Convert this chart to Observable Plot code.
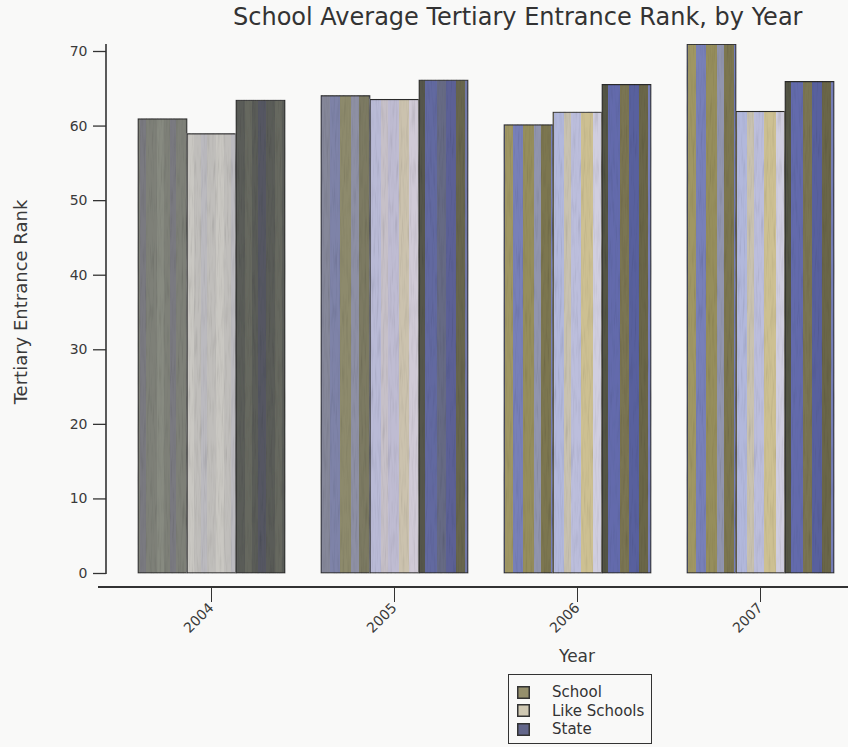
<!DOCTYPE html>
<html>
<head>
<meta charset="utf-8">
<script src="https://cdn.jsdelivr.net/npm/d3@7"></script>
<script src="https://cdn.jsdelivr.net/npm/@observablehq/plot@0.6"></script>
<style>
  html, body { margin: 0; padding: 0; background: #f9f9f8; }
  body { width: 848px; height: 747px; position: relative; overflow: hidden;
         font-family: "DejaVu Sans", Verdana, sans-serif; color: #3a3a3a; }
  #title { height: 44px; position: relative; }
  #title span { position: absolute; left: 233px; top: 3px; font-size: 24px; line-height: 28px; color: #333; white-space: nowrap; }
  #xlabel { height: 30px; position: relative; }
  #xlabel span { position: absolute; left: 577px; top: 4px; transform: translateX(-50%); font-size: 17px; color: #3a3a3a; }
  #legend { position: absolute; left: 508px; top: 674px; width: 142px; height: 60px;
            border: 1.5px solid #333; box-sizing: content-box; padding-top: 8px; }
  #legend .row { height: 18.5px; display: flex; align-items: center; font-size: 15px; line-height: 18px; color: #333; }
  #legend svg { margin-left: 8px; margin-right: 22px; flex: none; }
  #chart svg { display: block; }
</style>
</head>
<body>
<!-- stripe fills and grain for the bars: plain grey for 2004, soft for 2005, tinted after -->
<svg width="0" height="0" style="position:absolute">
  <defs>
    <filter id="grain" x="-0.05" y="-0.02" width="1.1" height="1.04">
      <feTurbulence type="fractalNoise" baseFrequency="0.55 0.035" numOctaves="2" seed="7" result="noise"/>
      <feColorMatrix in="noise" type="saturate" values="0" result="grey"/>
      <feComponentTransfer in="grey" result="shade">
        <feFuncR type="linear" slope="0.9" intercept="0.5"/>
        <feFuncG type="linear" slope="0.9" intercept="0.5"/>
        <feFuncB type="linear" slope="0.9" intercept="0.5"/>
      </feComponentTransfer>
      <feBlend in="SourceGraphic" in2="shade" mode="multiply" result="mixed"/>
      <feComposite in="mixed" in2="SourceGraphic" operator="in"/>
    </filter>
    <pattern id="fill-plain-0" patternUnits="userSpaceOnUse" width="30" height="8">
      <rect width="30" height="8" fill="#7e8078"/>
      <rect x="6" width="7" height="8" fill="#878a80"/>
      <rect x="19" width="6" height="8" fill="#7a7a80"/>
    </pattern>
    <pattern id="fill-plain-1" patternUnits="userSpaceOnUse" width="30" height="8">
      <rect width="30" height="8" fill="#c0bebb"/>
      <rect x="5" width="8" height="8" fill="#c9c7c2"/>
      <rect x="20" width="6" height="8" fill="#bbbabf"/>
    </pattern>
    <pattern id="fill-plain-2" patternUnits="userSpaceOnUse" width="30" height="8">
      <rect width="30" height="8" fill="#5a5c58"/>
      <rect x="4" width="7" height="8" fill="#66685f"/>
      <rect x="17" width="8" height="8" fill="#555762"/>
    </pattern>
    <pattern id="fill-soft-0" patternUnits="userSpaceOnUse" width="58" height="8">
      <rect width="58" height="8" fill="#858799"/>
      <rect x="0" width="10" height="8" fill="#7e83a8"/>
      <rect x="10" width="11" height="8" fill="#8d8a6c"/>
      <rect x="21" width="8" height="8" fill="#8e90a4"/>
      <rect x="29" width="10" height="8" fill="#7c7a62"/>
      <rect x="39" width="11" height="8" fill="#8087b0"/>
    </pattern>
    <pattern id="fill-soft-1" patternUnits="userSpaceOnUse" width="58" height="8">
      <rect width="58" height="8" fill="#c6c0c8"/>
      <rect x="0" width="11" height="8" fill="#bfbcd2"/>
      <rect x="11" width="10" height="8" fill="#cbc2ae"/>
      <rect x="21" width="9" height="8" fill="#d0cad6"/>
      <rect x="30" width="10" height="8" fill="#c2baa4"/>
      <rect x="40" width="11" height="8" fill="#b9bad6"/>
    </pattern>
    <pattern id="fill-soft-2" patternUnits="userSpaceOnUse" width="58" height="8">
      <rect width="58" height="8" fill="#666a84"/>
      <rect x="0" width="10" height="8" fill="#5c6196"/>
      <rect x="10" width="9" height="8" fill="#67654e"/>
      <rect x="19" width="10" height="8" fill="#737aa8"/>
      <rect x="29" width="8" height="8" fill="#56574c"/>
      <rect x="37" width="12" height="8" fill="#6269a0"/>
    </pattern>
    <pattern id="fill-tint-0" patternUnits="userSpaceOnUse" width="58" height="8">
      <rect width="58" height="8" fill="#8a8ca8"/>
      <rect x="0" width="10" height="8" fill="#7880b8"/>
      <rect x="10" width="11" height="8" fill="#968e5c"/>
      <rect x="21" width="7" height="8" fill="#9195ae"/>
      <rect x="28" width="10" height="8" fill="#7c7650"/>
      <rect x="38" width="12" height="8" fill="#7580bc"/>
      <rect x="50" width="8" height="8" fill="#a09764"/>
    </pattern>
    <pattern id="fill-tint-1" patternUnits="userSpaceOnUse" width="58" height="8">
      <rect width="58" height="8" fill="#c9c2b0"/>
      <rect x="0" width="10" height="8" fill="#bcbedc"/>
      <rect x="10" width="12" height="8" fill="#cdc092"/>
      <rect x="22" width="8" height="8" fill="#d0cedf"/>
      <rect x="30" width="11" height="8" fill="#c4b68a"/>
      <rect x="41" width="10" height="8" fill="#b2b8dc"/>
    </pattern>
    <pattern id="fill-tint-2" patternUnits="userSpaceOnUse" width="58" height="8">
      <rect width="58" height="8" fill="#686d90"/>
      <rect x="0" width="10" height="8" fill="#59619e"/>
      <rect x="10" width="9" height="8" fill="#6a6648"/>
      <rect x="19" width="10" height="8" fill="#767eb8"/>
      <rect x="29" width="8" height="8" fill="#545545"/>
      <rect x="37" width="12" height="8" fill="#636bac"/>
      <rect x="49" width="9" height="8" fill="#7a7452"/>
    </pattern>
  </defs>
</svg>

<div id="title"><span>School Average Tertiary Entrance Rank, by Year</span></div>
<div id="chart"></div>
<div id="xlabel"><span>Year</span></div>
<div id="legend"></div>

<script>
// Categories and values
const years = ["2004", "2005", "2006", "2007"];
const seriesNames = ["School", "Like Schools", "State"];
const school = [60.9, 64.0, 60.1, 70.9];
const likeSchools = [58.9, 63.5, 61.8, 61.9];
const state = [63.4, 66.1, 65.5, 65.9];
const yTicks = [0, 10, 20, 30, 40, 50, 60, 70];
const legendColors = ["#958f6c", "#cfc8b2", "#62668a"];

// Fill set per year
const fillSet = { "2004": "plain", "2005": "soft", "2006": "tint", "2007": "tint" };

// Long-format rows for the grouped bars
const seriesValues = [school, likeSchools, state];
const rows = [];
years.forEach((year, i) => {
  seriesNames.forEach((name, s) => {
    rows.push({
      year,
      series: name,
      value: seriesValues[s][i],
      fill: `url(#fill-${fillSet[year]}-${s})`
    });
  });
});

const W = 848, H = 598, MT = 7, MB = 55, ML = 106, MR = 14;

const plot = Plot.plot({
  width: W,
  height: H,
  marginTop: MT,
  marginBottom: MB,
  marginLeft: ML,
  marginRight: MR,
  style: { fontFamily: "DejaVu Sans, Verdana, sans-serif", fontSize: "13px", color: "#3a3a3a", background: "transparent" },
  fx: { domain: years, paddingInner: 0.191, paddingOuter: 0.0845, align: 1 },
  x: { domain: seriesNames, padding: 0, axis: null },
  y: { domain: [0, 70], range: [H - MB - 14, MT] },
  color: { type: "identity" },
  marks: [
    Plot.barY(rows, { fx: "year", x: "series", y: "value", fill: "fill", stroke: "#2b2b2b", strokeWidth: 1.3 }),
    Plot.axisY(yTicks, {
      tickSize: 13, tickPadding: 6, dx: -31, stroke: "#333", strokeWidth: 1.3,
      label: null, fontSize: 14
    }),
    Plot.axisFx({
      anchor: "bottom", tickSize: 15, tickPadding: 3, tickRotate: -45,
      label: null, fontSize: 14, stroke: "#333"
    })
  ]
});

document.getElementById("chart").appendChild(plot);

// Texture on the bars
const svg = d3.select(plot);
svg.selectAll("g[aria-label='bar'] rect").attr("filter", "url(#grain)");

// Axis lines and the rotated y-axis title, positioned from the plot's scales
const fxScale = plot.scale("fx");
const yScale = plot.scale("y");
const axisX = fxScale.range[0];
const frameBottom = H - MB;

svg.append("line")
  .attr("x1", axisX).attr("x2", axisX)
  .attr("y1", yScale.apply(70) - 9).attr("y2", yScale.apply(0) + 1)
  .attr("stroke", "#333").attr("stroke-width", 1.6);

svg.append("line")
  .attr("x1", axisX - 8).attr("x2", W)
  .attr("y1", frameBottom).attr("y2", frameBottom)
  .attr("stroke", "#333").attr("stroke-width", 1.8);

svg.append("text")
  .attr("transform", `translate(22,${(yScale.apply(0) + yScale.apply(70)) / 2 - 10}) rotate(-90)`)
  .attr("text-anchor", "middle")
  .attr("dominant-baseline", "middle")
  .attr("font-size", 18)
  .attr("fill", "#3a3a3a")
  .text("Tertiary Entrance Rank");

// Legend below the chart
const legend = d3.select("#legend");
seriesNames.forEach((name, s) => {
  const row = legend.append("div").attr("class", "row");
  const sw = row.append("svg").attr("width", 13).attr("height", 13);
  sw.append("rect").attr("x", 0.75).attr("y", 0.75).attr("width", 11.5).attr("height", 11.5)
    .attr("fill", legendColors[s]).attr("stroke", "#333").attr("stroke-width", 1.5);
  row.append("span").text(name);
});
</script>
</body>
</html>
